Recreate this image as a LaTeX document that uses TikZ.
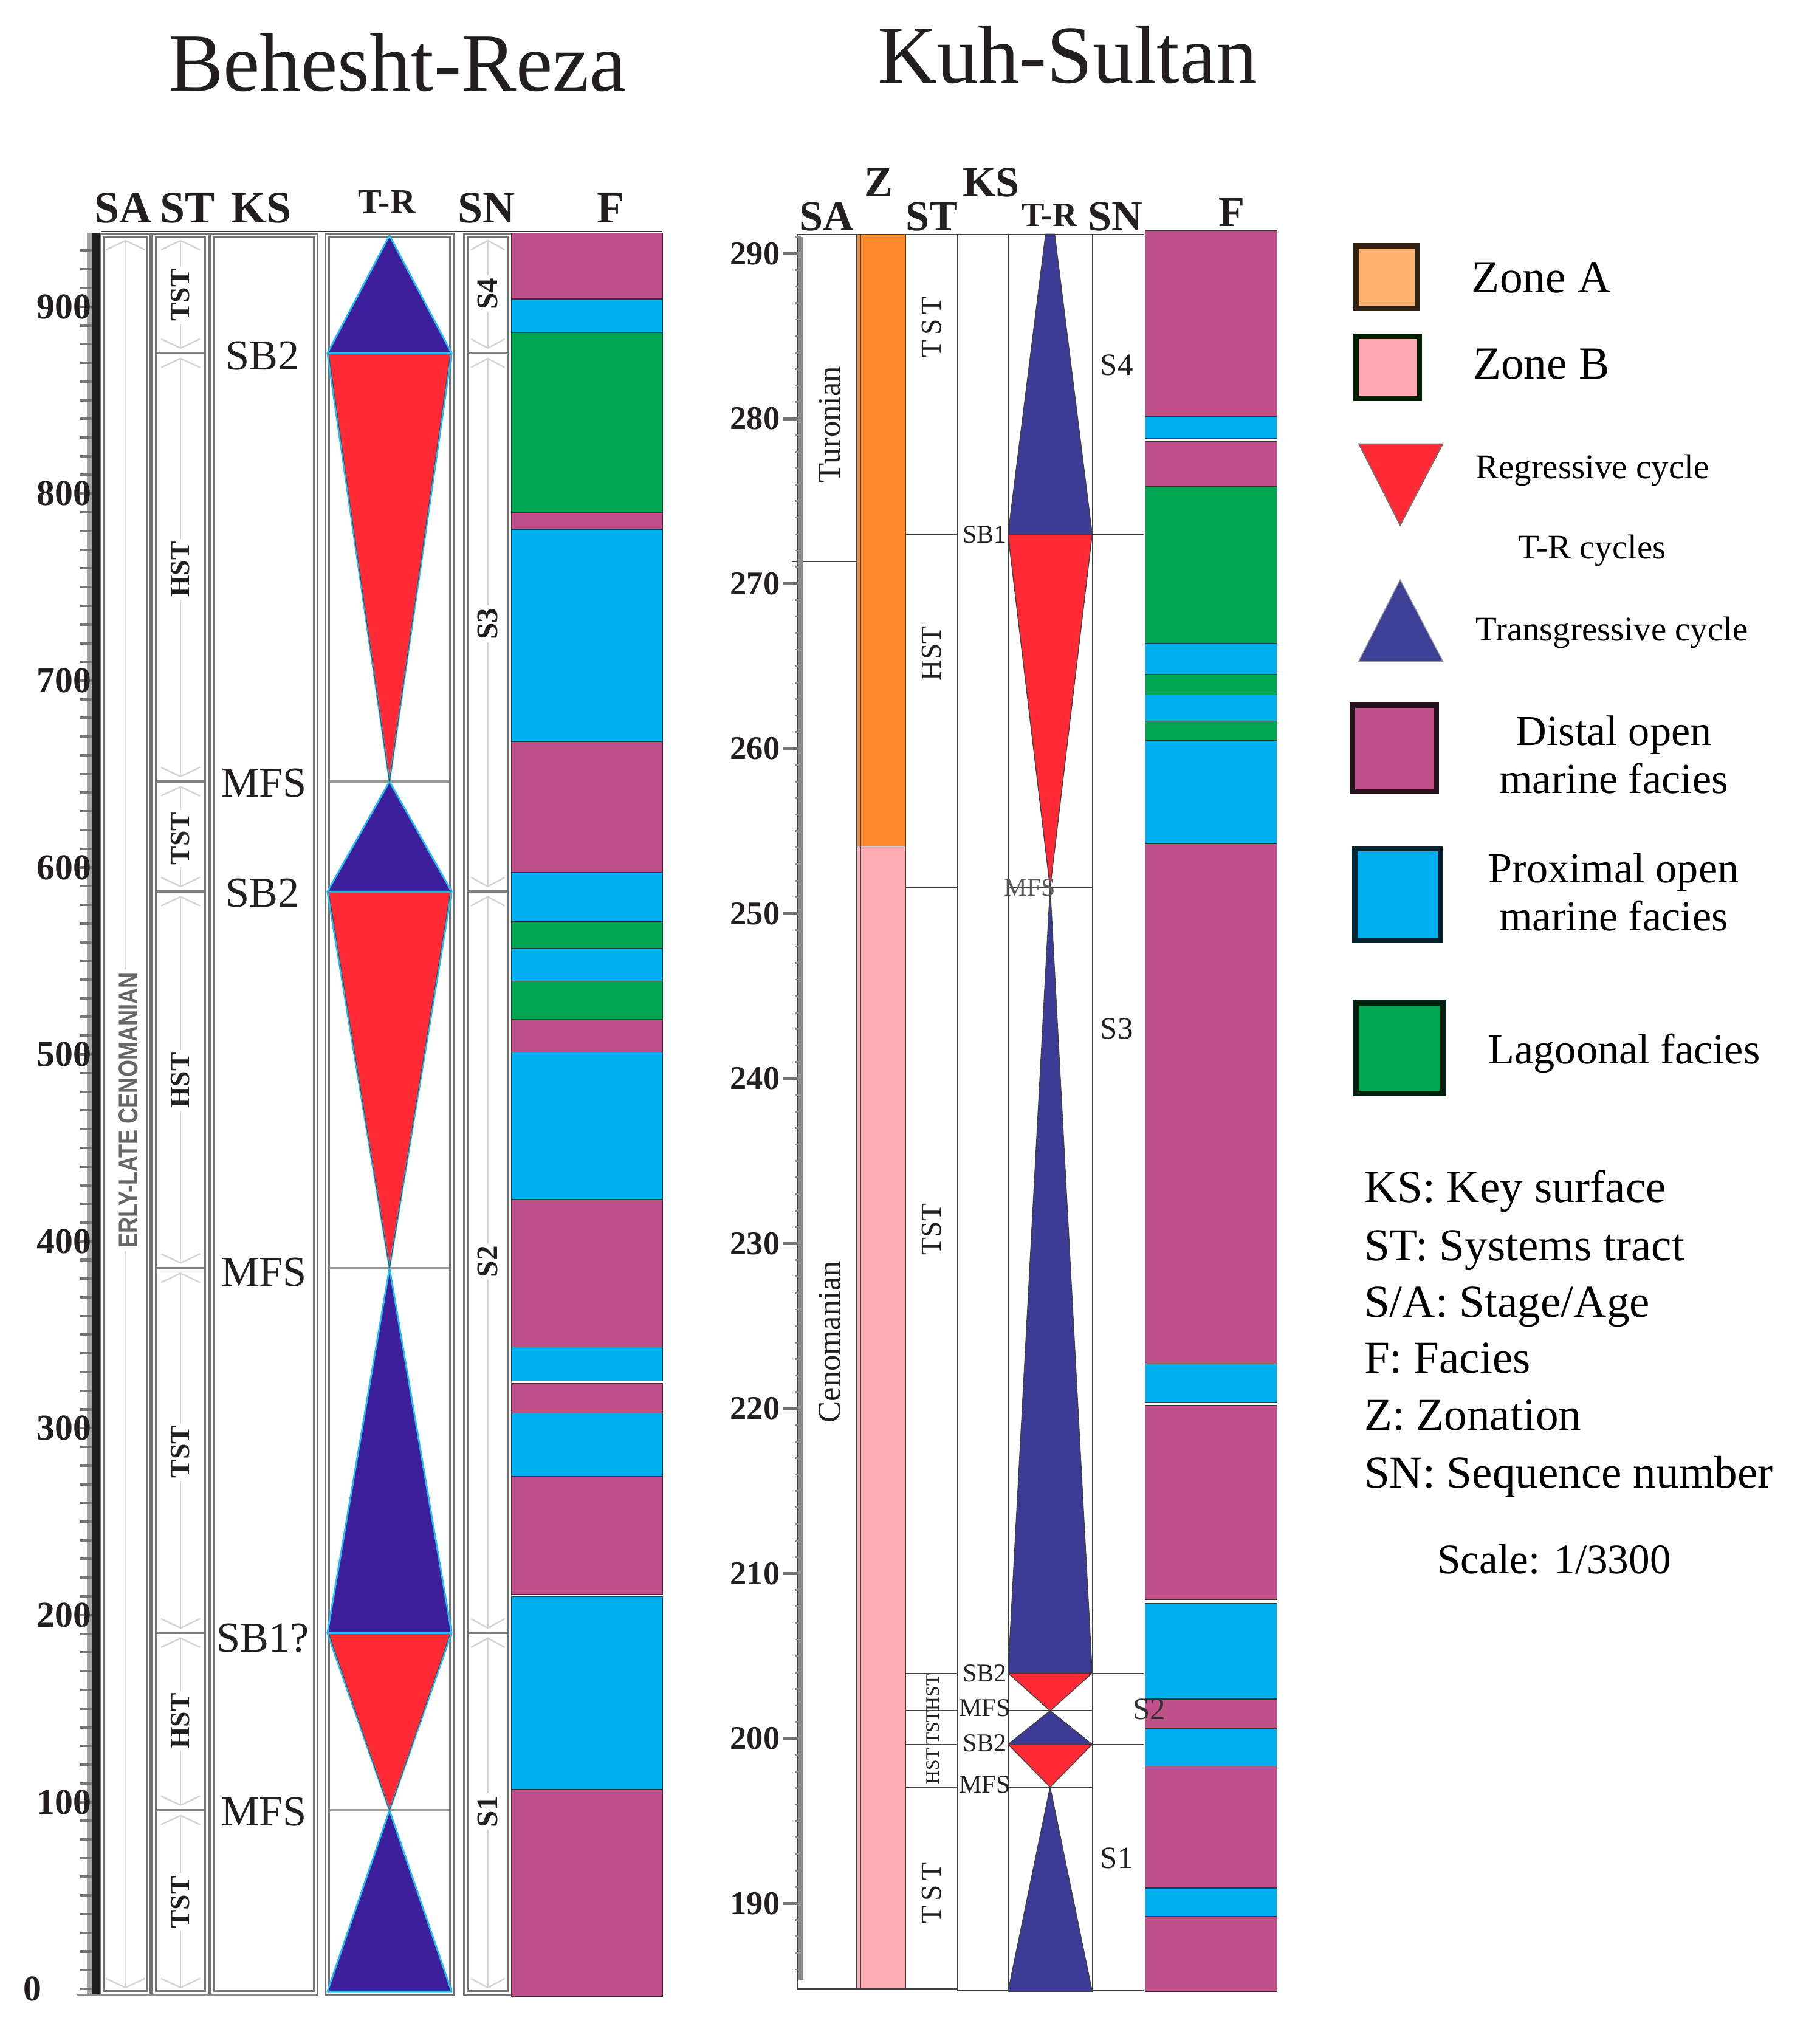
\documentclass[tikz,border=0pt]{standalone}
\usepackage{graphicx}
\usepackage{fontspec}
\setmainfont{Liberation Serif}
\newfontfamily\lsans{Liberation Sans}
\definecolor{dist}{HTML}{C0508A}
\definecolor{prox}{HTML}{00B0F0}
\definecolor{lag}{HTML}{00A651}
\definecolor{trblueL}{HTML}{3D1F9C}
\definecolor{trblueR}{HTML}{3C3C96}
\definecolor{trred}{HTML}{FF2A35}
\definecolor{zoneA}{HTML}{FF8A2B}
\definecolor{zoneB}{HTML}{FFADB5}
\definecolor{legA}{HTML}{FFB26E}
\definecolor{legB}{HTML}{FFAAB2}
\definecolor{legBlue}{HTML}{3C4196}
\definecolor{ink}{HTML}{231F20}
\newcommand\myfs[1]{\fontsize{#1}{#1}\selectfont}
\newcommand\segarrow[4]{%
  \draw[faint] (#1,#3+4) -- (#1,#4-4);
  \draw[faint] ({#1-#2},#3+11) -- (#1,#3+4) -- ({#1+#2},#3+11);
  \draw[faint] ({#1-#2},#4-11) -- (#1,#4-4) -- ({#1+#2},#4-11);
}
\begin{document}
\begin{tikzpicture}[x=0.021302cm, y=-0.021302cm,
  band/.style={draw=black!80, line width=0.35pt},
  lcol/.style={draw=black!55, line width=0.8pt, double=white, double distance=0.9pt},
  rcol/.style={draw=black!75, line width=0.45pt},
  lseg/.style={draw=black!50, line width=1pt},
  faint/.style={draw=black!17, line width=0.7pt},
  triL/.style={draw=prox!85, line width=0.8pt, line join=round},
  triR/.style={draw=black!75, line width=0.4pt, line join=round},
  lab/.style={inner sep=0pt, text=ink},
  hdr/.style={inner sep=0pt, text=ink, font=\myfs{21}\bfseries},
  num/.style={inner sep=0pt, text=ink, font=\myfs{17}\bfseries},
  rnum/.style={inner sep=0pt, text=ink, font=\myfs{15.5}\bfseries},
  stl/.style={inner sep=1.2pt, fill=white, rotate=90, text=ink, font=\myfs{13}\bfseries},
  snl/.style={inner sep=1.2pt, fill=white, rotate=90, text=ink, font=\myfs{14}\bfseries},
  ksl/.style={inner sep=0pt, text=ink, font=\myfs{20}},
  rst/.style={inner sep=0pt, rotate=90, text=ink, font=\myfs{13.5}},
  rsts/.style={inner sep=0pt, rotate=90, text=ink, font=\myfs{9}},
  rks/.style={inner sep=0pt, text=ink, font=\myfs{12}},
  rsn/.style={inner sep=0pt, text=ink, font=\myfs{14.5}},
  legsq/.style={line width=2.4pt},
  legtxt/.style={inner sep=0pt, text=black, anchor=base west},
]
\useasboundingbox (0,0) rectangle (1406,1568);
\fill[white] (0,0) rectangle (1406,1568);

% ---------------- titles
\node[lab, anchor=base, font=\myfs{38.6}] (t1) at (307,70) {Behesht-Reza};
\node[lab, anchor=base, font=\myfs{38.6}] (t2) at (825,64) {Kuh-Sultan};

% ================= LEFT PANEL (Behesht-Reza)
\node[hdr, anchor=base] (lhSA) at (95,172) {SA};
\node[hdr, anchor=base] (lhST) at (145,172) {ST};
\node[hdr, anchor=base] (lhKS) at (202,172) {KS};
\node[hdr, anchor=base, font=\myfs{16.5}\bfseries] (lhTR) at (299,165) {T-R};
\node[hdr, anchor=base] (lhSN) at (376,172) {SN};
\node[hdr, anchor=base] (lhF) at (472,172) {F};
\draw[black!80, line width=0.6pt] (78,179) -- (512,179);

% columns
\draw[lcol] (79,182) rectangle (115,1540);
\draw[lcol] (119,182) rectangle (160,1540);
\draw[lcol] (164,182) rectangle (244,1540);
\draw[lcol] (253,182) rectangle (349,1540);
\draw[lcol] (360,182) rectangle (394,1540);
\draw[black!45, line width=1pt] (59,1542) -- (244,1542);

% SA column content
\segarrow{97}{15}{182}{1540}
\node[rotate=90, fill=white, inner sep=1.5pt, text=black!60] (erly) at (99,858)
  {\resizebox{129pt}{8.8pt}{\lsans\bfseries ERLY-LATE CENOMANIAN}};

% ST segments
\foreach \a/\b in {182/273,273/604,604/689,689/980,980/1262,1262/1399,1399/1540}
  {\segarrow{139.5}{15}{\a}{\b}}
\foreach \y in {273,604,689,980,1262,1399}
  \draw[lseg] (121,\y) -- (158,\y);
\node[stl] (lst1) at (139.5,228) {TST};
\node[stl] (lst2) at (139.5,440) {HST};
\node[stl] (lst3) at (139.5,648) {TST};
\node[stl] (lst4) at (139.5,835) {HST};
\node[stl] (lst5) at (139.5,1122) {TST};
\node[stl] (lst6) at (139.5,1330) {HST};
\node[stl] (lst7) at (139.5,1470) {TST};

% KS labels
\node[ksl] (lks1) at (203,275) {SB2};
\node[ksl] (lks2) at (204,605) {MFS};
\node[ksl] (lks3) at (203,690) {SB2};
\node[ksl] (lks4) at (204,983) {MFS};
\node[ksl] (lks5) at (203,1266) {SB1?};
\node[ksl] (lks6) at (204,1400) {MFS};

% T-R column
\foreach \y in {604,980,1399}
  \draw[lseg, draw=black!40] (255,\y) -- (347,\y);
\foreach \ap/\bs/\c in {182/273/trblueL,604/273/trred,604/689/trblueL,980/689/trred,980/1262/trblueL,1399/1262/trred,1399/1539/trblueL}
  \filldraw[triL, fill=\c] (253,\bs) -- (349,\bs) -- (301,\ap) -- cycle;
\foreach \ap/\bs in {604/273,980/689,1399/1262}
  \draw[black!70, line width=0.3pt] (254,\bs) -- (301,\ap) -- (348,\bs);

% SN column
\foreach \a/\b in {182/273,273/689,689/1262,1262/1540}
  {\segarrow{377}{13}{\a}{\b}}
\foreach \y in {273,689,1262}
  \draw[lseg] (362,\y) -- (392,\y);
\node[snl] (lsn4) at (377,227) {S4};
\node[snl] (lsn3) at (377,482) {S3};
\node[snl] (lsn2) at (377,975) {S2};
\node[snl] (lsn1) at (377,1400) {S1};

% F column
\foreach \a/\b/\c in {180/231/dist,231/257/prox,257/396/lag,396/409/dist,409/573/prox,573/674/dist,674/712/prox,712/733/lag,733/758/prox,758/788/lag,788/813/dist,813/927/prox,927/1041/dist,1041/1067/prox,1069/1092/dist,1092/1141/prox,1141/1232/dist,1234/1383/prox,1383/1543/dist}
  \filldraw[band, fill=\c] (395,\a) rectangle (512,\b);

% ruler
\fill[black!35] (67,180) rectangle (71,1541);
\fill[black!88] (71,180) rectangle (77,1541);
\foreach \v in {0,10,...,930}
  \draw[black!55, line width=1.2pt] (62,{1537-1.4444*\v}) -- (71,{1537-1.4444*\v});
\foreach \v in {100,200,...,900}
  \node[num, anchor=east] (lnum\v) at (71,{1537-1.4444*\v}) {\v};
\node[num] (lnum0) at (25,1537) {0};

% ================= RIGHT PANEL (Kuh-Sultan)
\node[hdr, anchor=base, font=\myfs{20}\bfseries] (rhSA) at (639,178) {SA};
\node[hdr, anchor=base, font=\myfs{20}\bfseries] (rhZ) at (679,152) {Z};
\node[hdr, anchor=base, font=\myfs{20}\bfseries] (rhST) at (720,178) {ST};
\node[hdr, anchor=base, font=\myfs{20}\bfseries] (rhKS) at (766,152) {KS};
\node[hdr, anchor=base, font=\myfs{16}\bfseries] (rhTR) at (811,175) {T-R};
\node[hdr, anchor=base, font=\myfs{20}\bfseries] (rhSN) at (862,178) {SN};
\node[hdr, anchor=base, font=\myfs{20}\bfseries] (rhF) at (952,175) {F};

% Z column
\filldraw[rcol, fill=zoneA] (662,181) rectangle (700,654);
\filldraw[rcol, fill=zoneB] (662,654) rectangle (700,1537);
\draw[rcol] (665,181) -- (665,1537);
% boxes
\draw[rcol] (616,181) rectangle (662,1537);
\draw[rcol] (700,181) rectangle (740,1537);
\draw[rcol] (740,181) rectangle (779,1538);
\draw[rcol] (779,181) rectangle (844,1538);
\draw[rcol] (844,181) rectangle (884,1538);
\draw[rcol] (612,434) -- (662,434);
\foreach \y in {413,686,1293,1322,1348,1381}
  \draw[rcol] (700,\y) -- (740,\y);
\foreach \y in {413,686,1293,1322,1348,1381}
  \draw[rcol] (779,\y) -- (844,\y);
\foreach \y in {413,1293,1348}
  \draw[rcol] (844,\y) -- (884,\y);

% SA labels
\node[rst, font=\myfs{15}] (rsa1) at (641,328) {Turonian};
\node[rst, font=\myfs{15}] (rsa2) at (641,1037) {Cenomanian};

% ST labels
\node[rst] (rst1) at (720,253) {T\,S\,T};
\node[rst] (rst2) at (720,505) {HST};
\node[rst] (rst3) at (720,950) {TST};
\node[rsts] (rst4) at (721,1308) {HST};
\node[rsts] (rst5) at (721,1335) {TST};
\node[rsts] (rst6) at (721,1365) {HST};
\node[rst] (rst7) at (720,1463) {T\,S\,T};

% T-R triangles
\filldraw[triR, fill=trblueR] (808,181) -- (815,181) -- (844,413) -- (779,413) -- cycle;
\filldraw[triR, fill=trred] (779,413) -- (844,413) -- (811.5,686) -- cycle;
\filldraw[triR, fill=trblueR] (811.5,686) -- (844,1293) -- (779,1293) -- cycle;
\filldraw[triR, fill=trred] (779,1293) -- (844,1293) -- (811.5,1322) -- cycle;
\filldraw[triR, fill=trblueR] (811.5,1322) -- (844,1348) -- (779,1348) -- cycle;
\filldraw[triR, fill=trred] (779,1348) -- (844,1348) -- (811.5,1381) -- cycle;
\filldraw[triR, fill=trblueR] (811.5,1381) -- (844,1539) -- (779,1539) -- cycle;

% KS labels
\node[rks] (rks1) at (761,413) {SB1};
\node[rks, text=black!65] (rks2) at (796,686) {MFS};
\node[rks] (rks3) at (761,1293) {SB2};
\node[rks] (rks4) at (761,1320) {MFS};
\node[rks] (rks5) at (761,1347) {SB2};
\node[rks] (rks6) at (761,1379) {MFS};

% SN labels
\node[rsn] (rsn4) at (863,282) {S4};
\node[rsn] (rsn3) at (863,795) {S3};
\node[rsn] (rsn1) at (863,1436) {S1};

% F column
\foreach \a/\b/\c in {178/322/dist,322/339/prox,341/376/dist,376/497/lag,497/521/prox,521/537/lag,537/557/prox,557/572/lag,572/652/prox,652/1054/dist,1054/1084/prox,1086/1236/dist,1239/1313/prox,1313/1336/dist,1336/1365/prox,1365/1459/dist,1459/1481/prox,1481/1539/dist}
  \filldraw[band, fill=\c] (885,\a) rectangle (987,\b);
\node[rsn, text=black!80] (rsn2) at (888,1321) {S2};

% ruler
\draw[line width=2.2pt, black!45] (619,183) -- (619,1530);
\foreach \v in {186,...,291}
  \draw[black!45, line width=0.8pt] (614,{196+(290-\v)*12.75}) -- (619,{196+(290-\v)*12.75});
\foreach \v in {190,200,...,290}
  \draw[black!55, line width=1.6pt] (605,{196+(290-\v)*12.75}) -- (617,{196+(290-\v)*12.75});
\foreach \v in {190,200,...,290}
  \node[rnum, anchor=east] (rnum\v) at (603,{196+(290-\v)*12.75}) {\v};

% ================= LEGEND
\filldraw[legsq, draw=black!75!brown, fill=legA] (1048,190) rectangle (1095,238);
\node[legtxt, font=\myfs{21.5}] (lgA) at (1137,226) {Zone A};
\filldraw[legsq, draw=black!88!green, fill=legB] (1048,260) rectangle (1097,308);
\node[legtxt, font=\myfs{21.5}] (lgB) at (1138,293) {Zone B};

\filldraw[draw=black!55, line width=0.5pt, fill=trred] (1050,343) -- (1115,343) -- (1082,406) -- cycle;
\node[legtxt, font=\myfs{16.2}] (lgR) at (1140,370) {Regressive cycle};
\node[legtxt, font=\myfs{16.2}] (lgTR) at (1173,432) {T-R cycles};
\filldraw[draw=black!40, line width=0.4pt, fill=legBlue] (1082,448) -- (1115,511) -- (1050,511) -- cycle;
\node[legtxt, font=\myfs{16.2}] (lgT) at (1140,495) {Transgressive cycle};

\filldraw[legsq, draw=black!80!dist, fill=dist] (1045,545) rectangle (1110,612);
\node[legtxt, anchor=base, font=\myfs{20}] (lgD1) at (1247,576) {Distal open};
\node[legtxt, anchor=base, font=\myfs{20}] (lgD2) at (1247,613) {marine facies};
\filldraw[legsq, draw=black!80!prox, fill=prox] (1047,656) rectangle (1113,727);
\node[legtxt, anchor=base, font=\myfs{20}] (lgP1) at (1247,682) {Proximal open};
\node[legtxt, anchor=base, font=\myfs{20}] (lgP2) at (1247,719) {marine facies};
\filldraw[legsq, draw=black!80!lag, fill=lag] (1048,775) rectangle (1115,845);
\node[legtxt, font=\myfs{20}] (lgL) at (1150,822) {Lagoonal facies};

\node[legtxt, font=\myfs{21.4}] (d1) at (1054,929) {KS: Key surface};
\node[legtxt, font=\myfs{21.4}] (d2) at (1054,974) {ST: Systems tract};
\node[legtxt, font=\myfs{21.4}] (d3) at (1054,1018) {S/A: Stage/Age};
\node[legtxt, font=\myfs{21.4}] (d4) at (1054,1061) {F: Facies};
\node[legtxt, font=\myfs{21.4}] (d5) at (1054,1105) {Z: Zonation};
\node[legtxt, font=\myfs{21.4}] (d6) at (1054,1150) {SN: Sequence number};
\node[legtxt, anchor=base, font=\myfs{19.7}] (sc) at (1201,1216) {Scale: 1/3300};
\end{tikzpicture}
\end{document}
